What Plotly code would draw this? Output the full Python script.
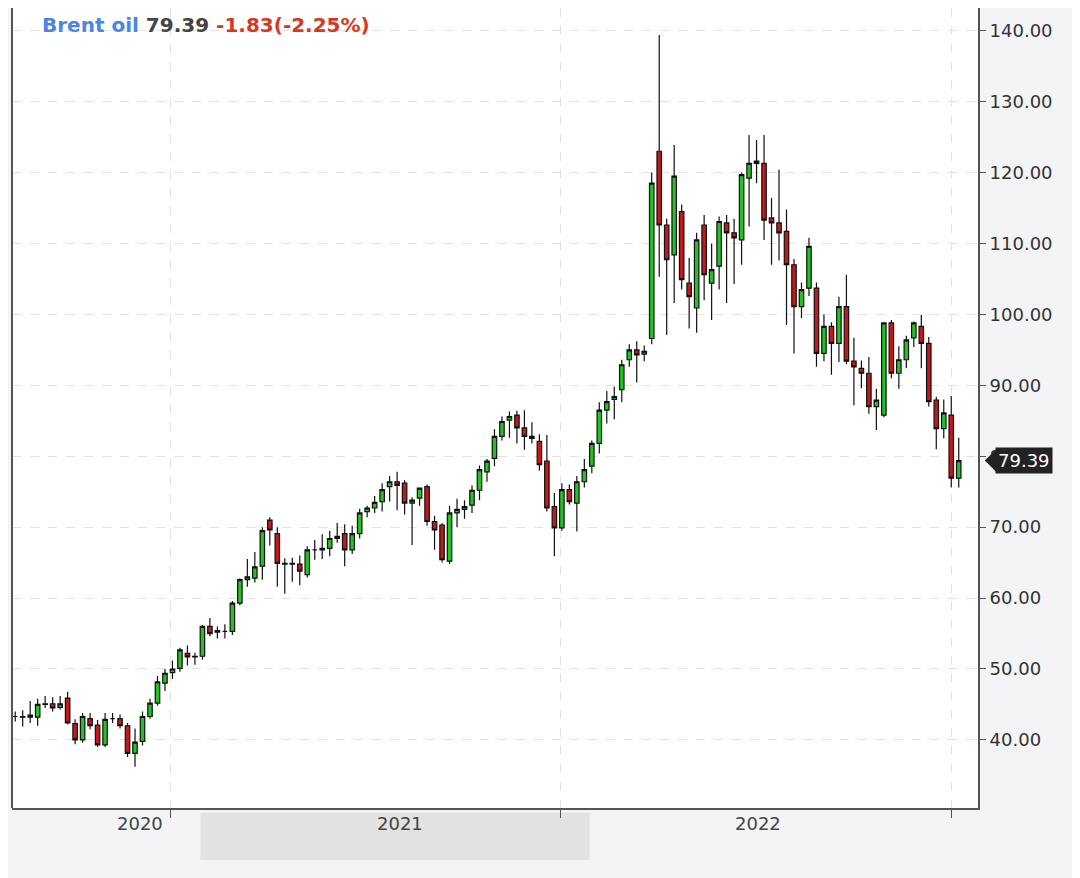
import pandas as pd
import plotly.graph_objects as go

# weekly Brent candles
dates = pd.date_range("2020-08-09", periods=127, freq="7D")

opens = [43.3, 43.3, 43.2, 43.2, 45.0, 45.1, 44.6, 45.9, 42.3, 40.0, 43.0, 42.1, 39.3, 43.0, 43.0, 42.0, 38.1, 39.8, 43.3, 45.2,
         48.0, 49.5, 50.1, 52.2, 51.7, 51.8, 56.0, 55.2, 55.3, 55.3, 59.3, 62.6, 62.8, 64.5, 71.0, 69.1, 64.9, 64.8, 64.8, 63.3,
         66.8, 66.8,
         67.0, 68.4, 69.1, 66.8, 69.1, 72.2, 72.7, 73.6, 75.7, 76.4, 76.2, 73.4, 74.1, 75.7, 70.8, 70.3, 65.2, 72.0, 72.5, 73.1,
         75.2, 77.8, 79.7, 82.8, 85.1, 85.8, 84.0, 82.8, 82.1, 79.3, 72.9, 69.9, 75.3, 73.4, 76.4, 78.6, 81.8, 86.5, 88.0, 89.4,
         93.6, 95.0, 94.4,
         96.6, 123.0, 112.6, 108.4, 114.5, 104.4, 100.9, 112.6, 104.4, 106.8, 112.9, 111.5, 110.5, 119.2, 121.3, 121.3, 113.6,
         112.9, 111.7, 107.0, 101.1, 103.7, 103.7, 94.5, 98.3, 95.9, 101.1, 93.4, 92.4, 91.7, 87.0, 85.8, 98.8, 91.7, 93.6, 96.7,
         98.3, 95.9, 87.9, 83.9, 85.8, 76.9]
highs = [44.0, 44.2, 45.5, 45.8, 46.2, 46.0, 46.2, 46.8, 42.9, 43.8, 43.8, 42.8, 43.8, 43.8, 43.6, 42.4, 41.6, 44.0, 45.8, 49.0,
         50.0, 51.2, 53.0, 53.3, 52.3, 56.2, 57.2, 56.0, 56.3, 59.6, 62.8, 65.5, 66.5, 70.0, 71.4, 70.0, 65.6, 65.7, 66.0, 67.3,
         68.2, 69.0,
         69.5, 70.6, 70.4, 70.2, 72.6, 73.0, 74.4, 76.2, 77.2, 77.8, 76.6, 74.2, 75.6, 76.0, 71.6, 70.6, 73.0, 74.0, 73.8, 75.9,
         78.7, 79.6, 83.8, 85.6, 86.3, 86.4, 86.5, 84.8, 83.1, 83.0, 74.8, 76.2, 76.0, 77.2, 79.6, 82.2, 87.6, 89.2, 89.8, 93.6,
         95.8, 96.2, 95.6,
         120.0, 139.4, 113.5, 123.9, 115.5, 108.0, 111.5, 114.0, 110.0, 113.8, 114.0, 113.5, 120.0, 125.3, 124.6, 125.3, 116.4,
         120.4, 114.8, 107.8, 104.5, 110.8, 104.5, 100.0, 98.9, 102.5, 105.6, 96.7, 93.5, 94.0, 89.5, 98.8, 99.2, 95.5, 97.0,
         99.0, 99.9, 96.8, 88.4, 88.0, 88.5, 82.6]
lows = [42.6, 41.9, 42.4, 42.0, 44.5, 44.0, 44.3, 42.2, 39.4, 39.6, 41.5, 39.0, 39.0, 42.4, 41.6, 37.6, 36.2, 39.2, 43.0, 44.8,
        46.9, 48.6, 49.6, 50.5, 50.6, 51.3, 54.6, 54.3, 54.3, 54.8, 59.0, 61.6, 62.2, 62.6, 67.4, 61.6, 60.6, 62.3, 61.8, 62.9,
        65.4, 65.5,
        65.9, 67.8, 64.5, 66.2, 68.4, 71.4, 72.0, 72.2, 73.6, 72.4, 71.8, 67.5, 73.0, 70.2, 66.8, 65.0, 64.8, 70.0, 71.2, 72.0,
        73.8, 76.4, 78.6, 82.2, 82.6, 81.8, 80.9, 81.8, 78.0, 72.2, 65.9, 69.5, 73.2, 69.4, 75.6, 77.6, 80.4, 84.6, 85.2, 87.6,
        92.6, 90.4, 93.4,
        95.8, 105.3, 97.1, 101.6, 103.5, 98.0, 97.4, 102.0, 99.2, 103.5, 101.6, 104.3, 107.0, 112.4, 118.5, 110.5, 107.0,
        107.6, 98.5, 94.5, 99.5, 102.6, 92.6, 93.4, 91.5, 93.3, 93.0, 87.2, 89.6, 86.0, 83.7, 85.5, 91.0, 89.5, 92.4,
        95.4, 92.4, 87.0, 81.0, 82.5, 75.6, 75.6]
closes = [43.3, 43.2, 43.5, 45.0, 45.1, 44.5, 45.1, 42.4, 40.0, 43.3, 42.0, 39.3, 42.9, 43.0, 42.0, 38.1, 39.7, 43.3, 45.2, 48.2,
          49.4, 50.0, 52.7, 51.7, 51.8, 56.0, 55.0, 55.4, 55.3, 59.3, 62.6, 63.0, 64.4, 69.5, 69.6, 64.9, 64.8, 64.9, 63.8, 66.8,
          66.8, 67.0,
          68.4, 68.7, 66.8, 69.1, 72.0, 72.7, 73.5, 75.3, 76.4, 75.9, 73.4, 73.8, 75.5, 70.8, 69.6, 65.4, 72.0, 72.5, 72.9, 75.2,
          78.1, 79.3, 82.8, 84.9, 85.6, 84.0, 82.8, 82.5, 78.8, 72.7, 69.9, 75.3, 73.6, 76.4, 78.1, 81.8, 86.5, 87.7, 88.4, 92.9,
          95.0, 94.3, 94.8,
          118.5, 112.6, 107.7, 119.5, 104.9, 102.5, 110.5, 105.6, 106.3, 113.1, 111.5, 110.8, 119.7, 121.3, 121.6, 113.3, 112.9,
          111.5, 107.0, 101.1, 103.5, 109.6, 94.5, 98.3, 95.9, 101.1, 93.4, 92.6, 91.7, 87.0, 87.9, 98.8, 91.7, 93.6, 96.4, 98.8,
          95.9, 87.7, 83.9, 86.1, 76.9, 79.39]

last_price = 79.39
year_labels = ["2020", "2021", "2022"]
year_lines = ["2021-01-01", "2022-01-01", "2023-01-01"]

fig = go.Figure(go.Candlestick(
    x=dates, open=opens, high=highs, low=lows, close=closes,
    increasing=dict(fillcolor="#22c322", line=dict(color="#111111", width=1.2)),
    decreasing=dict(fillcolor="#c21a1a", line=dict(color="#111111", width=1.2)),
    whiskerwidth=0, showlegend=False, hoverinfo="skip",
))

fig.update_layout(
    width=1072, height=870,
    margin=dict(l=4, r=102, t=0, b=70),
    boxgap=0.15,
    paper_bgcolor="#f3f4f6", plot_bgcolor="white",
    font=dict(family="DejaVu Sans", color="#333333"),
    xaxis=dict(
        range=["2020-08-06", "2023-01-26"], rangeslider=dict(visible=False),
        tickvals=year_lines, ticktext=["", "", ""], ticks="outside", ticklen=8, tickcolor="#555",
        showgrid=True, gridcolor="#e2e2e2", griddash="dash",
        showline=True, linecolor="#555", linewidth=2, mirror=False,
    ),
    yaxis=dict(
        side="right", range=[30.4, 143.2], dtick=10, tickformat=".2f",
        ticks="outside", ticklen=6, tickcolor="#555", tickfont=dict(size=18, color="#333"),
        showgrid=True, gridcolor="#e2e2e2", griddash="dash",
        showline=True, linecolor="#555", linewidth=2,
    ),
)

# left border of the plot
fig.add_shape(type="line", xref="paper", yref="paper", x0=0, x1=0, y0=0, y1=1,
              line=dict(color="#555", width=2))

# shaded band under the 2021 label
fig.add_shape(type="rect", xref="paper", yref="paper", x0=0.195, x1=0.598, y0=-0.006, y1=-0.065,
              fillcolor="#e2e2e2", line=dict(width=0), layer="below")
for xp, lab in zip([0.107, 0.402, 0.798], year_labels):
    fig.add_annotation(x=xp, y=-0.035, xref="paper", yref="paper", text=lab, showarrow=False,
                       font=dict(size=18, color="#444"))

# title
fig.add_annotation(
    x=0.029, y=0.996, xref="paper", yref="paper", xanchor="left", yanchor="top", showarrow=False,
    text="<b><span style='color:#4a86e8'>Brent oil</span> <span style='color:#444'>79.39</span> "
         "<span style='color:#d9381e'>-1.83(-2.25%)</span></b>",
    font=dict(size=20),
)

# last price marker
fig.add_shape(type="path", xref="paper", yref="y",
              path=f"M 1.007,{last_price} L 1.019,{last_price + 1.6} L 1.019,{last_price - 1.6} Z",
              fillcolor="#222", line=dict(width=0))
fig.add_annotation(x=1.018, y=last_price, xref="paper", yref="y", xanchor="left", showarrow=False,
                   text=f"{last_price:.2f}", bgcolor="#222", font=dict(size=18, color="white"), borderpad=2)

fig.write_html("out.html")
